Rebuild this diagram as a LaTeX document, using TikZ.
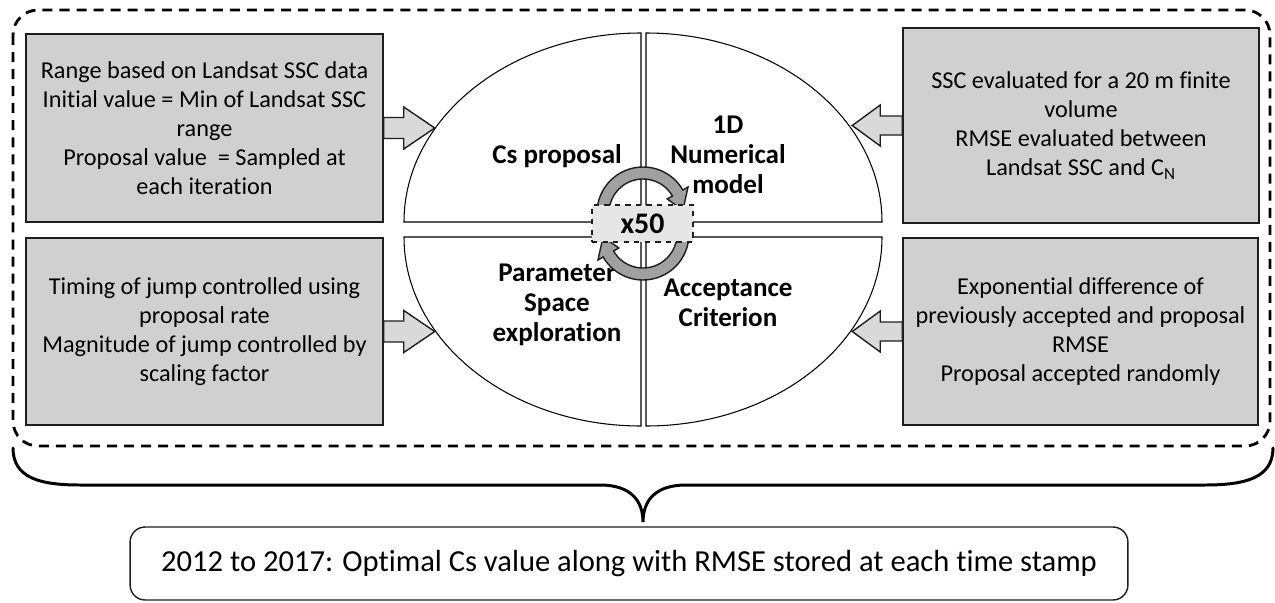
\documentclass[tikz,border=0pt]{standalone}
\usepackage{fontspec}
\setmainfont{Carlito}[Ligatures=NoCommon]
\usetikzlibrary{calc}
\definecolor{boxgray}{RGB}{208,208,208}
\definecolor{arrowgray}{RGB}{217,217,217}
\definecolor{loopgray}{RGB}{160,160,160}
\definecolor{tagGray}{RGB}{230,230,230}
\definecolor{edge}{RGB}{30,30,30}
\tikzset{
  quarter/.style={draw=black, line width=0.6pt, fill=white},
  qlabel/.style={align=center, inner sep=0pt, font=\bfseries\fontsize{15.4pt}{17.2pt}\selectfont},
  gbox/.style={draw=edge, line width=0.9pt, fill=boxgray, align=center, inner sep=0pt,
    font=\fontsize{13.8pt}{16.6pt}\selectfont},
  barrow/.style={draw=edge, line width=0.8pt, fill=arrowgray, line join=miter},
  loop/.style={draw=edge, line width=0.8pt, fill=loopgray},
  tag/.style={draw=edge, dashed, line width=0.7pt, fill=tagGray, inner sep=0pt,
    minimum width=2.02cm, minimum height=0.74cm, font=\bfseries\fontsize{17pt}{20pt}\selectfont},
  frame/.style={draw=black, line width=1.6pt, dash pattern=on 5.7pt off 4pt, rounded corners=0.5cm},
  brace/.style={draw=black, line width=1.7pt, line cap=round},
  result/.style={draw=edge, line width=0.8pt, rounded corners=0.3cm, inner sep=0pt,
    minimum width=19.96cm, minimum height=1.46cm, font=\fontsize{17.4pt}{20pt}\selectfont}
}
\begin{document}
\begin{tikzpicture}[x=0.02cm, y=-0.02cm]
\useasboundingbox (0,0) rectangle (1275,602);

% four quarters of the central ellipse
\path[quarter] (641,222) -- (404,222) arc[start angle=180, end angle=270, x radius=237, y radius=189] -- cycle;
\path[quarter] (646,222) -- (646,33) arc[start angle=270, end angle=360, x radius=236, y radius=189] -- cycle;
\path[quarter] (641,237) -- (404,237) arc[start angle=180, end angle=90, x radius=237, y radius=189] -- cycle;
\path[quarter] (646,237) -- (882,237) arc[start angle=0, end angle=90, x radius=236, y radius=189] -- cycle;

\node[qlabel] (qcs)  at (557,156) {Cs proposal};
\node[qlabel] (qnum) at (728,155) {1D\\Numerical\\model};
\node[qlabel] (qpar) at (557,305) {Parameter\\Space\\exploration};
\node[qlabel] (qacc) at (728,303) {Acceptance\\Criterion};

% circular iteration arrows
\coordinate (c1) at (643,213);
\coordinate (c2) at (643,234);
\path[loop] ($(c1)+(180:46)$) arc[start angle=180, end angle=330, radius=46]
  -- ($(c1)+(330:52)$) -- ($(c1)+(356:40)$) -- ($(c1)+(330:28)$)
  -- ($(c1)+(330:34)$) arc[start angle=330, end angle=180, radius=34] -- cycle;
\path[loop] ($(c2)+(0:46)$) arc[start angle=0, end angle=150, radius=46]
  -- ($(c2)+(150:52)$) -- ($(c2)+(176:40)$) -- ($(c2)+(150:28)$)
  -- ($(c2)+(150:34)$) arc[start angle=150, end angle=0, radius=34] -- cycle;

\node[tag] (x50) at (642.5,223.5) {x50};

% side boxes
\node[gbox, minimum width=7.14cm, minimum height=3.76cm] (lt) at (204.5,128)
  {Range based on Landsat SSC data\\Initial value = Min of Landsat SSC\\range\\Proposal value\ \ = Sampled at\\each iteration};
\node[gbox, minimum width=7.14cm, minimum height=3.74cm] (lb) at (204.5,331.5)
  {\raisebox{-0.04cm}{\parbox{7cm}{\centering Timing of jump controlled using\\proposal rate\\Magnitude of jump controlled by\\scaling factor}}};
\node[gbox, minimum width=7.12cm, minimum height=3.9cm] (rt) at (1081,125.5)
  {SSC evaluated for a 20 m finite\\volume\\RMSE evaluated between\\Landsat SSC and C\textsubscript{N}};
\node[gbox, minimum width=7.1cm, minimum height=3.74cm] (rb) at (1080.5,331.5)
  {\raisebox{-0.05cm}{\parbox{7cm}{\centering Exponential difference of\\previously accepted and proposal\\RMSE\\Proposal accepted randomly}}};

% block arrows into the ellipse
\path[barrow] (lt.east) ++(0,-10.5) -- ++(20,0) -- ++(0,-10.5) -- ++(31,21) -- ++(-31,21) -- ++(0,-10.5) -- ++(-20,0) -- cycle;
\path[barrow] (lb.east) ++(0,-10.5) -- ++(20,0) -- ++(0,-10.5) -- ++(31,21) -- ++(-31,21) -- ++(0,-10.5) -- ++(-20,0) -- cycle;
\path[barrow] (rt.west) ++(0,-9.5) -- ++(-22,0) -- ++(0,-11) -- ++(-28,20.5) -- ++(28,20.5) -- ++(0,-11) -- ++(22,0) -- cycle;
\path[barrow] (rb.west) ++(0,-9.5) -- ++(-22,0) -- ++(0,-11) -- ++(-28,20.5) -- ++(28,20.5) -- ++(0,-11) -- ++(22,0) -- cycle;

% dashed frame around the iteration
\path[frame] (13,10) rectangle (1270,446);

% brace gathering everything into the result
\coordinate (bl) at (13,448);
\coordinate (br) at (1273,448);
\coordinate (btip) at (643,522);
\path[brace] (bl) .. controls (13,478) and (40,485) .. (80,485) -- (600,485)
  .. controls (630,485) and (643,500) .. (btip)
  .. controls (643,500) and (656,485) .. (686,485) -- (1205,485)
  .. controls (1245,485) and (1273,478) .. (br);

\node[result] (res) at (629,563.5) {\raisebox{-0.1cm}{2012 to 2017: Optimal Cs value along with RMSE stored at each time stamp}};
\end{tikzpicture}
\end{document}
